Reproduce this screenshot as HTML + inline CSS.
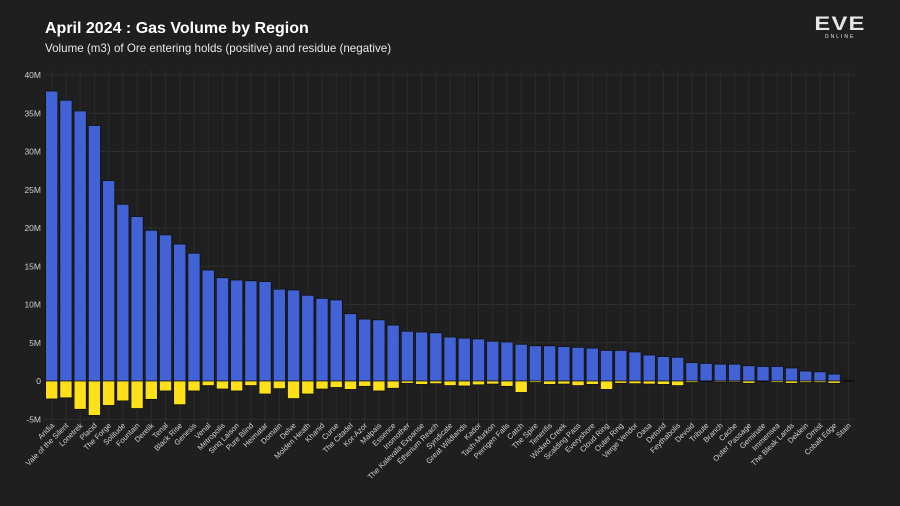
<!DOCTYPE html>
<html><head><meta charset="utf-8"><style>
html,body{margin:0;padding:0;background:#1f1f1f;}
#wrap{position:relative;width:900px;height:506px;overflow:hidden;background:#1f1f1f;font-family:"Liberation Sans",sans-serif;}
#title{position:absolute;left:45px;top:20px;color:#fff;font-size:16px;font-weight:bold;}
#sub{position:absolute;left:45px;top:42px;color:#e8e8e8;font-size:11.6px;}
#logo{position:absolute;left:812px;top:16px;color:#e6e6e6;text-align:center;width:56px;}
</style></head><body>
<div id="wrap">
<div id="title">April 2024 : Gas Volume by Region</div>
<div id="sub">Volume (m3) of Ore entering holds (positive) and residue (negative)</div>
<div id="logo"><div style="font-size:19px;font-weight:bold;letter-spacing:1px;line-height:18px;transform:scaleX(1.25)">EVE</div><div style="font-size:5px;letter-spacing:2px;line-height:7px">ONLINE</div></div>
<svg id="chart" width="900" height="506" style="position:absolute;left:0;top:0"></svg>
</div>
<script>
const categories=["Aridia","Vale of the Silent","Lonetrek","Placid","The Forge","Solitude","Fountain","Derelik","Tenal","Black Rise","Genesis","Venal","Metropolis","Sinq Laison","Pure Blind","Heimatar","Domain","Delve","Molden Heath","Khanid","Curse","The Citadel","Kor-Azor","Malpais","Essence","Insmother","The Kalevala Expanse","Etherium Reach","Syndicate","Great Wildlands","Kador","Tash-Murkon","Perrigen Falls","Catch","The Spire","Tenerifis","Wicked Creek","Scalding Pass","Everyshore","Cloud Ring","Outer Ring","Verge Vendor","Oasa","Detorid","Feythabolis","Devoid","Tribute","Branch","Cache","Outer Passage","Geminate","Immensea","The Bleak Lands","Deklein","Omist","Cobalt Edge","Stain"];
const positiveValues=[37.9,36.7,35.3,33.4,26.2,23.1,21.5,19.7,19.1,17.9,16.7,14.5,13.5,13.2,13.1,13.0,12.0,11.9,11.2,10.8,10.6,8.8,8.1,8.0,7.3,6.5,6.4,6.3,5.75,5.6,5.5,5.2,5.1,4.8,4.6,4.6,4.5,4.4,4.3,4.0,4.0,3.8,3.4,3.2,3.1,2.4,2.3,2.2,2.2,2.0,1.9,1.9,1.7,1.3,1.2,0.9,0.1];
const negativeValues=[-2.35,-2.2,-3.7,-4.5,-3.2,-2.6,-3.6,-2.4,-1.3,-3.1,-1.3,-0.6,-1.05,-1.3,-0.6,-1.7,-1.0,-2.3,-1.7,-1.05,-0.85,-1.1,-0.7,-1.3,-0.95,-0.3,-0.45,-0.35,-0.6,-0.65,-0.5,-0.4,-0.7,-1.5,-0.2,-0.45,-0.4,-0.6,-0.45,-1.1,-0.3,-0.35,-0.4,-0.45,-0.6,-0.2,-0.1,-0.15,-0.15,-0.3,-0.1,-0.2,-0.3,-0.2,-0.2,-0.3,-0.05];
const yTicks=[-5,0,5,10,15,20,25,30,35,40];
const yTickLabels=["-5M","0","5M","10M","15M","20M","25M","30M","35M","40M"];

const NS="http://www.w3.org/2000/svg";
const svg=document.getElementById('chart');
const left=44.6,right=855.5,y0=381,pxPerM=7.65;
const step=(right-left)/categories.length;
function xc(i){return left+step*(i+0.5);}
function y(v){return y0-v*pxPerM;}
function mk(t,a){const e=document.createElementNS(NS,t);for(const k in a)e.setAttribute(k,a[k]);svg.appendChild(e);return e;}
categories.forEach((c,i)=>{
  const g=mk('line',{x1:xc(i),x2:xc(i),y1:70,y2:y(-5)+12,stroke:'#2c2c2c','stroke-width':1});
  
  
});
yTicks.forEach((t,i)=>{
  const g=mk('line',{x1:left,x2:right,y1:y(t),y2:y(t),stroke:'#2e2e2e','stroke-width':1});
  
  
  const l=mk('text',{x:41,y:y(t)+3,'text-anchor':'end',fill:'#cfcfcf','font-size':8.5,'font-family':'Liberation Sans, sans-serif'});
  l.textContent=yTickLabels[i];
  
  
});
const bw=12.2;
categories.forEach((c,i)=>{
  const p=positiveValues[i],n=negativeValues[i];
  const b=mk('rect',{x:xc(i)-bw/2,y:y(p),width:bw,height:y(0)-y(p),fill:'#4263d6',stroke:'#111','stroke-width':0.8});
  
  
  const r=mk('rect',{x:xc(i)-bw/2,y:y(0),width:bw,height:y(n)-y(0),fill:'#ffe119',stroke:'#111','stroke-width':0.8});
  
  
  const tx=xc(i)+3,ty=426;
  const l=mk('text',{x:tx,y:ty,'text-anchor':'end',fill:'#d0d0d0','font-size':7.6,'font-family':'Liberation Sans, sans-serif',transform:`rotate(-45 ${tx} ${ty})`});
  l.textContent=c;
  
  
});
</script>
</body></html>
